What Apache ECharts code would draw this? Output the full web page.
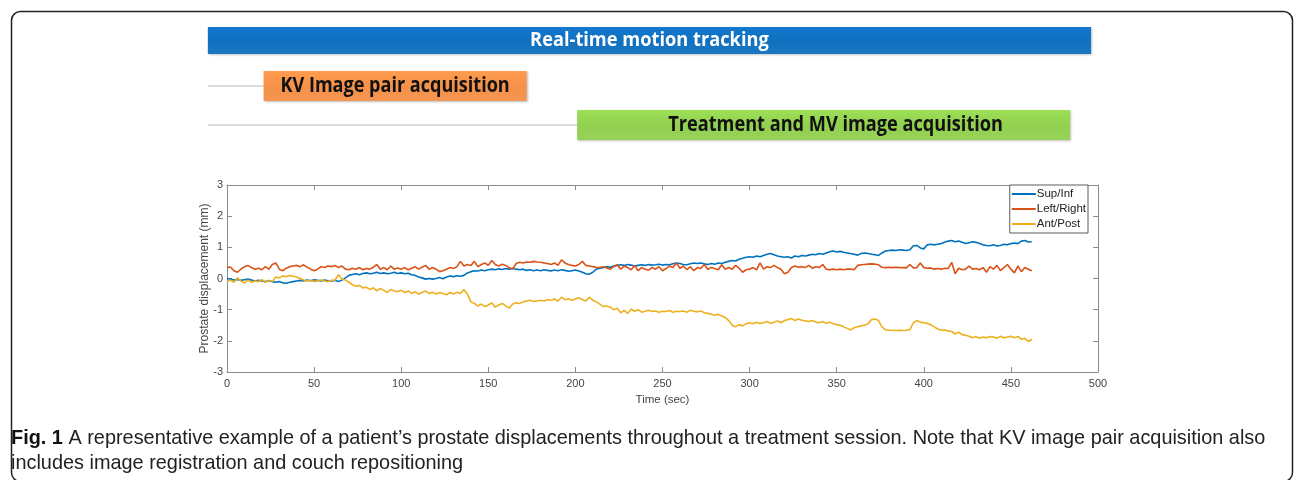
<!DOCTYPE html>
<html>
<head>
<meta charset="utf-8">
<script src="https://cdn.jsdelivr.net/npm/echarts@6/dist/echarts.min.js"></script>
<style>html,body{margin:0;padding:0;background:#fff}#c{width:1296px;height:480px}</style>
</head>
<body>
<div id="c"></div>
<script>
// ---- data ----
const timeStep = 2; // seconds between samples, first sample at t = 0
const supInf = [
0,-0.02,-0.05,-0.03,-0.06,-0.04,-0.02,-0.05,-0.08,-0.06,
-0.08,-0.1,-0.07,-0.1,-0.12,-0.1,-0.14,-0.15,-0.12,-0.1,
-0.08,-0.06,-0.08,-0.05,-0.07,-0.04,-0.06,-0.08,-0.05,-0.07,
-0.08,-0.06,-0.1,-0.05,0.02,0.1,0.13,0.15,0.12,0.16,
0.18,0.15,0.17,0.2,0.16,0.18,0.15,0.17,0.2,0.16,
0.18,0.15,0.17,0.12,0.1,0.05,0.02,-0.02,0,-0.02,
0,0.03,-0.01,0.05,0.08,0.06,0.09,0.07,0.1,0.18,
0.22,0.25,0.24,0.27,0.25,0.28,0.3,0.28,0.31,0.29,
0.32,0.3,0.33,0.3,0.28,0.3,0.26,0.28,0.25,0.27,
0.25,0.28,0.26,0.24,0.27,0.25,0.28,0.26,0.23,0.25,
0.27,0.24,0.2,0.15,0.14,0.2,0.3,0.33,0.35,0.38,
0.36,0.4,0.42,0.44,0.42,0.45,0.43,0.4,0.42,0.44,
0.42,0.45,0.43,0.44,0.46,0.43,0.45,0.44,0.47,0.5,
0.48,0.45,0.44,0.47,0.5,0.48,0.5,0.47,0.45,0.48,
0.46,0.5,0.48,0.52,0.55,0.58,0.56,0.62,0.65,0.68,
0.7,0.68,0.72,0.7,0.74,0.78,0.8,0.76,0.72,0.7,
0.68,0.7,0.66,0.72,0.7,0.74,0.72,0.75,0.78,0.76,
0.8,0.78,0.82,0.86,0.88,0.85,0.87,0.84,0.82,0.8,
0.78,0.75,0.8,0.82,0.8,0.78,0.76,0.74,0.82,0.88,
0.9,0.91,0.9,0.92,0.91,0.9,0.92,1.05,1.06,0.98,
0.95,1.08,1.1,1.08,1.1,1.12,1.16,1.2,1.22,1.18,
1.2,1.16,1.12,1.15,1.18,1.16,1.12,1.08,1.06,1.05,
1.08,1.04,1.06,1.1,1.08,1.12,1.14,1.12,1.2,1.22,
1.17,1.18
];
const leftRight = [
0.35,0.37,0.25,0.2,0.3,0.38,0.42,0.35,0.3,0.33,
0.28,0.38,0.3,0.45,0.5,0.3,0.25,0.33,0.38,0.4,
0.42,0.38,0.44,0.36,0.3,0.25,0.3,0.38,0.35,0.4,
0.38,0.42,0.35,0.4,0.3,0.28,0.33,0.3,0.35,0.28,
0.32,0.3,0.36,0.45,0.3,0.35,0.28,0.4,0.3,0.34,
0.3,0.35,0.28,0.33,0.38,0.3,0.36,0.42,0.3,0.35,
0.3,0.22,0.25,0.3,0.35,0.32,0.38,0.55,0.4,0.45,
0.42,0.55,0.38,0.45,0.5,0.42,0.58,0.45,0.4,0.46,
0.42,0.35,0.3,0.48,0.52,0.5,0.53,0.52,0.55,0.53,
0.52,0.5,0.48,0.45,0.5,0.42,0.6,0.5,0.45,0.42,
0.4,0.45,0.55,0.42,0.4,0.38,0.36,0.35,0.38,0.34,
0.3,0.38,0.44,0.3,0.4,0.35,0.28,0.42,0.25,0.35,
0.3,0.27,0.35,0.3,0.38,0.25,0.32,0.4,0.35,0.5,
0.33,0.4,0.28,0.38,0.25,0.35,0.32,0.45,0.3,0.35,
0.32,0.28,0.44,0.3,0.35,0.3,0.42,0.33,0.2,0.28,
0.3,0.35,0.28,0.5,0.3,0.38,0.35,0.42,0.35,0.3,
0.15,0.2,0.35,0.4,0.36,0.38,0.35,0.42,0.33,0.38,
0.35,0.45,0.3,0.28,0.3,0.28,0.3,0.28,0.3,0.3,
0.28,0.42,0.44,0.45,0.46,0.47,0.46,0.44,0.36,0.35,
0.36,0.35,0.36,0.35,0.35,0.34,0.45,0.34,0.35,0.5,
0.35,0.33,0.34,0.3,0.32,0.3,0.33,0.32,0.52,0.15,
0.33,0.28,0.3,0.4,0.3,0.32,0.28,0.35,0.2,0.38,
0.3,0.42,0.25,0.35,0.45,0.3,0.18,0.4,0.22,0.35,
0.3,0.25
];
const antPost = [
-0.1,-0.05,-0.12,0.02,-0.08,-0.15,-0.05,-0.12,-0.08,-0.1,
-0.04,-0.12,-0.06,-0.1,0.05,0.02,0.08,0.06,0.1,0.07,
0.05,0,-0.05,-0.08,-0.06,-0.1,-0.07,-0.05,-0.08,-0.1,
-0.06,-0.05,0.12,-0.02,-0.05,-0.12,-0.2,-0.25,-0.22,-0.3,
-0.28,-0.35,-0.3,-0.4,-0.32,-0.38,-0.45,-0.35,-0.4,-0.42,
-0.38,-0.45,-0.4,-0.48,-0.42,-0.5,-0.45,-0.4,-0.48,-0.44,
-0.5,-0.45,-0.48,-0.52,-0.45,-0.5,-0.44,-0.48,-0.35,-0.5,
-0.75,-0.8,-0.88,-0.82,-0.9,-0.85,-0.78,-0.92,-0.85,-0.8,
-0.88,-0.95,-0.82,-0.78,-0.8,-0.75,-0.72,-0.7,-0.74,-0.72,
-0.7,-0.72,-0.68,-0.7,-0.66,-0.72,-0.6,-0.68,-0.65,-0.7,
-0.66,-0.62,-0.68,-0.72,-0.6,-0.7,-0.75,-0.82,-0.9,-0.88,
-0.92,-1.0,-0.95,-1.1,-1.02,-1.12,-0.98,-1.05,-1.0,-1.08,
-1.05,-1.02,-1.06,-1.04,-1.08,-1.05,-1.06,-1.03,-1.08,-1.05,
-1.06,-1.04,-1.08,-1.02,-1.05,-1.07,-1.04,-1.1,-1.12,-1.15,
-1.18,-1.15,-1.2,-1.25,-1.35,-1.5,-1.55,-1.48,-1.52,-1.45,
-1.42,-1.45,-1.4,-1.44,-1.42,-1.38,-1.44,-1.4,-1.36,-1.42,
-1.35,-1.32,-1.28,-1.35,-1.3,-1.34,-1.36,-1.38,-1.35,-1.4,
-1.42,-1.38,-1.44,-1.4,-1.45,-1.48,-1.5,-1.55,-1.6,-1.65,
-1.58,-1.55,-1.52,-1.5,-1.45,-1.32,-1.3,-1.35,-1.55,-1.65,
-1.66,-1.66,-1.67,-1.66,-1.67,-1.66,-1.64,-1.42,-1.35,-1.4,
-1.42,-1.44,-1.48,-1.55,-1.62,-1.66,-1.65,-1.68,-1.7,-1.78,
-1.72,-1.8,-1.82,-1.85,-1.9,-1.86,-1.92,-1.88,-1.9,-1.86,
-1.88,-1.92,-1.85,-1.9,-1.88,-1.85,-1.9,-1.86,-1.95,-1.92,
-2.02,-1.95
];
const seriesNames = ['Sup/Inf', 'Left/Right', 'Ant/Post'];
const xTicks = [0, 50, 100, 150, 200, 250, 300, 350, 400, 450, 500];
const yTicks = [-3, -2, -1, 0, 1, 2, 3];
// timeline phases (in seconds on the same time scale)
const phaseLabels = ['Real-time motion tracking', 'KV Image pair acquisition', 'Treatment and MV image acquisition'];
const phaseStart = [-11, 21, 201];
const phaseEnd = [496, 172, 484];
const captionBold = 'Fig. 1';
const captionText = ' A representative example of a patient\u2019s prostate displacements throughout a treatment session. Note that KV image pair acquisition also';
const captionText2 = 'includes image registration and couch repositioning';

// ---- chart ----
const colors = ['#0072BD', '#D95319', '#EDB120'];
const toPairs = arr => arr.map((v, i) => [i * timeStep, v]);
const phaseColors = ['#1070bf', '#f59149', '#92d050'];
const phaseText = ['#ffffff', '#111111', '#111111'];
const phaseTop = [27, 71, 110];
const phaseH = [27, 30, 30];
const phaseFont = [19, 21, 21];
const phaseScaleX = [0.96, 0.86, 0.865];
const phaseTextDx = [0, 0, 12];

const chart = echarts.init(document.getElementById('c'), null, {renderer: 'canvas'});
const axisCol = '#8c8c8c';
const labelCol = '#454545';
const font = 'Liberation Sans, Arial, sans-serif';

const option = {
  animation: false,
  backgroundColor: '#ffffff',
  grid: [
    {left: 227, top: 185, width: 871, height: 187, show: false},
    {left: 227, top: 20, width: 871, height: 130, show: false}
  ],
  xAxis: [
    {type: 'value', gridIndex: 0, min: 0, max: 500, interval: 50,
      name: 'Time (sec)', nameLocation: 'middle', nameGap: 22,
      nameTextStyle: {color: labelCol, fontSize: 11.5, fontFamily: font},
      axisLine: {onZero: false, lineStyle: {color: axisCol, width: 1}},
      axisTick: {inside: true, length: 5, lineStyle: {color: axisCol}},
      axisLabel: {color: labelCol, fontSize: 11, fontFamily: font, margin: 6, formatter: v => xTicks.includes(v) ? String(v) : ''},
      splitLine: {show: false}},
    {type: 'value', gridIndex: 0, position: 'top', min: 0, max: 500, interval: 50,
      axisLine: {onZero: false, lineStyle: {color: axisCol, width: 1}},
      axisTick: {inside: true, length: 5, lineStyle: {color: axisCol}},
      axisLabel: {show: false}, splitLine: {show: false}},
    {type: 'value', gridIndex: 1, min: 0, max: 500, show: false}
  ],
  yAxis: [
    {type: 'value', gridIndex: 0, min: -3, max: 3, interval: 1,
      name: 'Prostate displacement (mm)', nameLocation: 'middle', nameGap: 16, nameRotate: 90,
      nameMoveOverlap: false,
      nameTextStyle: {color: labelCol, fontSize: 12, fontFamily: font},
      axisLine: {show: true, onZero: false, lineStyle: {color: axisCol, width: 1}},
      axisTick: {show: true, inside: true, length: 5, lineStyle: {color: axisCol}},
      axisLabel: {color: labelCol, fontSize: 11, fontFamily: font, margin: 4, formatter: v => yTicks.includes(v) ? String(v) : ''},
      splitLine: {show: false}},
    {type: 'value', gridIndex: 0, position: 'right', min: -3, max: 3, interval: 1,
      axisLine: {show: true, onZero: false, lineStyle: {color: axisCol, width: 1}},
      axisTick: {show: true, inside: true, length: 5, lineStyle: {color: axisCol}},
      axisLabel: {show: false}, splitLine: {show: false}},
    {type: 'value', gridIndex: 1, min: 0, max: 130, inverse: true, show: false}
  ],
  legend: {
    right: 1296 - 1088, top: 185,
    orient: 'vertical',
    itemWidth: 24, itemHeight: 2, itemGap: 3,
    icon: 'rect',
    padding: [3, 2, 3, 2],
    borderColor: '#333', borderWidth: 0.8, borderRadius: 0,
    backgroundColor: '#fff',
    textStyle: {color: '#222', fontSize: 11.5, fontFamily: font, padding: [0, 0, 0, -4]},
    data: seriesNames
  },
  series: [
    {name: seriesNames[0], type: 'line', xAxisIndex: 0, yAxisIndex: 0, data: toPairs(supInf), showSymbol: false, symbol: 'none', lineStyle: {width: 1.6, color: colors[0]}, itemStyle: {color: colors[0]}},
    {name: seriesNames[1], type: 'line', xAxisIndex: 0, yAxisIndex: 0, data: toPairs(leftRight), showSymbol: false, symbol: 'none', lineStyle: {width: 1.6, color: colors[1]}, itemStyle: {color: colors[1]}},
    {name: seriesNames[2], type: 'line', xAxisIndex: 0, yAxisIndex: 0, data: toPairs(antPost), showSymbol: false, symbol: 'none', lineStyle: {width: 1.6, color: colors[2]}, itemStyle: {color: colors[2]}},
    {
      type: 'custom', xAxisIndex: 2, yAxisIndex: 2, clip: false, silent: true,
      data: phaseLabels.map((l, i) => [phaseStart[i], phaseEnd[i], i]),
      renderItem: function (params, api) {
        const i = api.value(2);
        const s = api.coord([api.value(0), 0])[0];
        const e = api.coord([api.value(1), 0])[0];
        const x0 = api.coord([phaseStart[0], 0])[0];
        const top = phaseTop[i];
        const h = phaseH[i];
        const children = [];
        if (i > 0) {
          children.push({type: 'line', shape: {x1: x0, y1: top + h / 2, x2: s, y2: top + h / 2}, style: {stroke: '#cfcfcf', lineWidth: 1.5}});
        }
        children.push({type: 'rect', shape: {x: s, y: top, width: e - s, height: h},
          style: {fill: new echarts.graphic.LinearGradient(0, 0, 0, 1, [
            {offset: 0, color: echarts.color.lift(phaseColors[i], -0.08)},
            {offset: 0.5, color: phaseColors[i]},
            {offset: 1, color: echarts.color.lift(phaseColors[i], 0.05)}]),
            shadowBlur: 2, shadowColor: 'rgba(0,0,0,0.25)', shadowOffsetX: 1, shadowOffsetY: 1}});
        children.push({type: 'text', x: (s + e) / 2 + phaseTextDx[i], y: top + h / 2, scaleX: phaseScaleX[i],
          style: {
          text: phaseLabels[i], x: 0, y: 0, align: 'center', verticalAlign: 'middle',
          fill: phaseText[i], font: 'bold ' + phaseFont[i] + 'px "Open Sans", sans-serif'}});
        return {type: 'group', children: children};
      }
    }
  ],
  graphic: [
    {type: 'rect', left: 9, top: 9, z: -1, shape: {width: 1281, height: 470, r: 9},
      style: {fill: 'none', stroke: '#222', lineWidth: 1.5}},
    {type: 'text', x: 11, y: 426, scaleX: 0.947, z: 10,
      style: {
        text: '{b|' + captionBold + '}{r|' + captionText + '}\n{r|' + captionText2 + '}',
        rich: {
          b: {fontFamily: 'Liberation Sans, Arial, sans-serif', fontWeight: 'bold', fontSize: 21, fill: '#111', lineHeight: 25},
          r: {fontFamily: 'Liberation Sans, Arial, sans-serif', fontWeight: 'normal', fontSize: 21, fill: '#222', lineHeight: 25}
        }
      }}
  ]
};
chart.setOption(option);
</script>
</body>
</html>
